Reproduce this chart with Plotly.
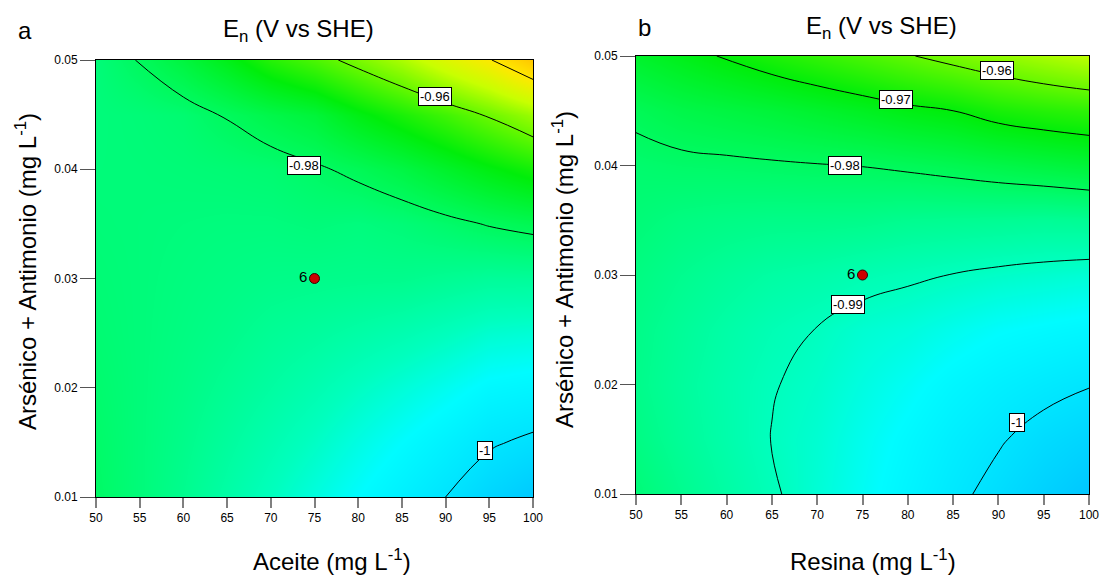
import plotly.graph_objects as go

# ---------------- data ----------------
aceite = [50, 55, 60, 65, 70, 75, 80, 85, 90, 95, 100]      # panel a x (mg/L)
resina = [50, 55, 60, 65, 70, 75, 80, 85, 90, 95, 100]      # panel b x (mg/L)
as_sb = [0.010, 0.015, 0.020, 0.025, 0.030, 0.035, 0.040, 0.045, 0.050]  # y (mg/L)

# En (V vs SHE); one row per as_sb value, one column per x value
en_a = [
    [-0.9806, -0.9828, -0.9850, -0.9875, -0.9900, -0.9925, -0.9950, -0.9975, -1.0000, -1.0027, -1.0050],
    [-0.9810, -0.9828, -0.9845, -0.9865, -0.9885, -0.9905, -0.9928, -0.9950, -0.9972, -0.9995, -1.0008],
    [-0.9815, -0.9828, -0.9840, -0.9855, -0.9870, -0.9885, -0.9903, -0.9920, -0.9938, -0.9958, -0.9965],
    [-0.9820, -0.9828, -0.9836, -0.9845, -0.9857, -0.9865, -0.9875, -0.9885, -0.9898, -0.9913, -0.9918],
    [-0.9823, -0.9828, -0.9833, -0.9838, -0.9843, -0.9845, -0.9847, -0.9848, -0.9855, -0.9862, -0.9862],
    [-0.9826, -0.9828, -0.9830, -0.9832, -0.9832, -0.9828, -0.9832, -0.9825, -0.9812, -0.9797, -0.9785],
    [-0.9828, -0.9827, -0.9825, -0.9822, -0.9818, -0.9806, -0.9790, -0.9768, -0.9738, -0.9708, -0.9680],
    [-0.9829, -0.9825, -0.9818, -0.9797, -0.9775, -0.9755, -0.9712, -0.9675, -0.9637, -0.9593, -0.9545],
    [-0.9827, -0.9797, -0.9762, -0.9717, -0.9663, -0.9625, -0.9579, -0.9529, -0.9464, -0.9405, -0.9320],
]
en_b = [
    [-0.9825, -0.9850, -0.9873, -0.9895, -0.9918, -0.9942, -0.9966, -0.9990, -1.0013, -1.0035, -1.0055],
    [-0.9838, -0.9860, -0.9880, -0.9901, -0.9915, -0.9937, -0.9957, -0.9978, -0.9996, -1.0015, -1.0028],
    [-0.9845, -0.9864, -0.9882, -0.9898, -0.9909, -0.9927, -0.9943, -0.9961, -0.9975, -0.9987, -0.9998],
    [-0.9843, -0.9860, -0.9876, -0.9890, -0.9901, -0.9915, -0.9923, -0.9936, -0.9948, -0.9955, -0.9962],
    [-0.9836, -0.9850, -0.9862, -0.9872, -0.9878, -0.9887, -0.9894, -0.9901, -0.9908, -0.9913, -0.9918],
    [-0.9825, -0.9835, -0.9840, -0.9843, -0.9843, -0.9845, -0.9851, -0.9853, -0.9855, -0.9858, -0.9855],
    [-0.9815, -0.9810, -0.9808, -0.9805, -0.9802, -0.9799, -0.9793, -0.9785, -0.9775, -0.9765, -0.9755],
    [-0.9790, -0.9775, -0.9765, -0.9755, -0.9742, -0.9728, -0.9712, -0.9700, -0.9678, -0.9665, -0.9655],
    [-0.9740, -0.9718, -0.9695, -0.9672, -0.9650, -0.9627, -0.9604, -0.9580, -0.9557, -0.9533, -0.9510],
]

center_x = [75]
center_y = [0.03]
center_lbl = ["6"]

labels_a_x = [88.8, 73.8, 94.5]
labels_a_y = [0.0467, 0.0403, 0.0143]
labels_a_t = ["-0.96", "-0.98", "-1"]

labels_b_x = [89.8, 78.7, 73.1, 73.4, 92.0]
labels_b_y = [0.0487, 0.0460, 0.0400, 0.0273, 0.0165]
labels_b_t = ["-0.96", "-0.97", "-0.98", "-0.99", "-1"]

x_ticks = [50, 55, 60, 65, 70, 75, 80, 85, 90, 95, 100]
y_ticks = [0.01, 0.02, 0.03, 0.04, 0.05]

# ---------------- styling ----------------
ZMIN, ZMAX = -1.008, -0.93
stops = [
    (-1.008, "rgb(0,185,255)"),
    (-1.000, "rgb(0,228,255)"),
    (-0.995, "rgb(0,252,255)"),
    (-0.990, "rgb(0,255,190)"),
    (-0.980, "rgb(0,250,95)"),
    (-0.970, "rgb(0,238,10)"),
    (-0.960, "rgb(100,248,0)"),
    (-0.950, "rgb(200,255,0)"),
    (-0.940, "rgb(255,232,0)"),
    (-0.930, "rgb(255,190,0)"),
]
cscale = [[(v - ZMIN) / (ZMAX - ZMIN), c] for v, c in stops]

FONT = "Liberation Sans, Arial, sans-serif"
W, H = 1100, 575


def px_x(p):
    return p / W


def px_y(p):
    return (H - p) / H


fig = go.Figure()

for xv, zv, xa, ya, levels in [
    (aceite, en_a, "x", "y", dict(start=-1.0, end=-0.94, size=0.02)),
    (resina, en_b, "x2", "y2", dict(start=-1.0, end=-0.96, size=0.01)),
]:
    fig.add_trace(go.Heatmap(
        x=xv, y=as_sb, z=zv, zsmooth="best", colorscale=cscale,
        zmin=ZMIN, zmax=ZMAX, showscale=False, xaxis=xa, yaxis=ya,
        hoverinfo="skip"))
    fig.add_trace(go.Contour(
        x=xv, y=as_sb, z=zv, showscale=False,
        contours=dict(coloring="none", showlabels=False, **levels),
        line=dict(color="black", width=1, smoothing=1.3),
        xaxis=xa, yaxis=ya, hoverinfo="skip"))
    fig.add_trace(go.Scatter(
        x=center_x, y=center_y, mode="markers+text", text=center_lbl,
        textposition="middle left", textfont=dict(size=15, color="black", family=FONT),
        marker=dict(size=10, color="#cc0000", line=dict(color="#330000", width=1)),
        xaxis=xa, yaxis=ya, showlegend=False, hoverinfo="skip"))

annotations = []
for lx, ly, lt, xr, yr in [
    (labels_a_x, labels_a_y, labels_a_t, "x", "y"),
    (labels_b_x, labels_b_y, labels_b_t, "x2", "y2"),
]:
    for x, y, t in zip(lx, ly, lt):
        annotations.append(dict(
            x=x, y=y, xref=xr, yref=yr, text=t, showarrow=False,
            bgcolor="white", bordercolor="black", borderwidth=1, borderpad=1,
            font=dict(size=13, color="black", family=FONT)))

title_font = dict(size=24, color="black", family=FONT)
texts = [
    (25, 30, "a", 0),
    (299, 30, "E<sub>n</sub> (V vs SHE)", 0),
    (645, 28, "b", 0),
    (881, 28, "E<sub>n</sub> (V vs SHE)", 0),
    (332, 560, "Aceite (mg L<sup>-1</sup>)", 0),
    (873, 560, "Resina (mg L<sup>-1</sup>)", 0),
    (26, 272, "Arsénico + Antimonio (mg L<sup>-1</sup>)", -90),
    (563, 270, "Arsénico + Antimonio (mg L<sup>-1</sup>)", -90),
]
for x, y, t, ang in texts:
    annotations.append(dict(
        x=px_x(x), y=px_y(y), xref="paper", yref="paper", text=t,
        showarrow=False, textangle=ang, font=title_font,
        xanchor="center", yanchor="middle"))

xcommon = dict(range=[50, 100], tickvals=x_ticks, ticks="outside", ticklen=10,
               tickcolor="#808080", tickwidth=1.5, showline=True, linecolor="black",
               linewidth=1, mirror=True, showgrid=False, zeroline=False,
               ticklabeloverflow="allow",
               tickfont=dict(size=12, color="black", family=FONT), automargin=False)
ycommon = dict(range=[0.01, 0.05], tickvals=y_ticks, tickformat=".2f", ticks="outside",
               ticklen=15, tickcolor="#555555", tickwidth=1.2, showline=True,
               linecolor="black", linewidth=1, mirror=True, showgrid=False,
               zeroline=False, tickfont=dict(size=12, color="black", family=FONT),
               automargin=False)

fig.update_layout(
    width=W, height=H, margin=dict(l=0, r=0, t=0, b=0),
    paper_bgcolor="white", plot_bgcolor="white", showlegend=False,
    xaxis=dict(domain=[px_x(96), px_x(533)], anchor="y", **xcommon),
    yaxis=dict(domain=[px_y(497), px_y(60)], anchor="x", **ycommon),
    xaxis2=dict(domain=[px_x(636), px_x(1089)], anchor="y2", **xcommon),
    yaxis2=dict(domain=[px_y(494), px_y(56)], anchor="x2", **ycommon),
    annotations=annotations,
)

fig.write_html(
    "out.html",
    config={"displayModeBar": False},
    post_script="document.body.style.margin='0';document.body.style.overflow='hidden';",
)
